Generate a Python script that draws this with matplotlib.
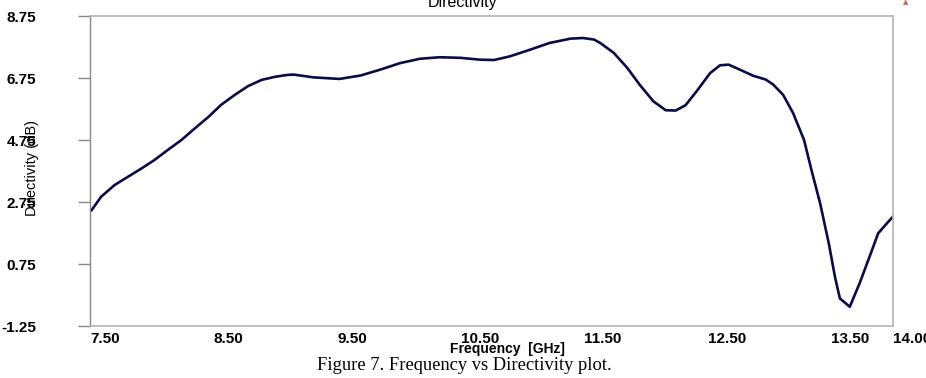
import matplotlib
matplotlib.use('Agg')
import matplotlib.pyplot as plt

# frequency [GHz] and directivity [dB]
freq = [7.51, 7.59, 7.70, 7.81, 7.92, 8.02, 8.13, 8.24, 8.35, 8.46,
        8.56, 8.67, 8.78, 8.89, 9.00, 9.10, 9.15, 9.31, 9.52, 9.69,
        9.85, 10.01, 10.17, 10.33, 10.50, 10.66, 10.77, 10.90, 11.06, 11.22,
        11.39, 11.49, 11.58, 11.63, 11.74, 11.85, 11.95, 12.06, 12.16, 12.24,
        12.32, 12.41, 12.52, 12.60, 12.67, 12.76, 12.87, 12.97, 13.03, 13.11,
        13.19, 13.28, 13.34, 13.41, 13.48, 13.53, 13.57, 13.65, 13.73, 13.82,
        13.88, 13.95, 14.00]
directivity = [2.47, 2.92, 3.30, 3.57, 3.84, 4.10, 4.43, 4.75, 5.13, 5.50,
               5.88, 6.20, 6.49, 6.69, 6.79, 6.85, 6.86, 6.77, 6.72, 6.83,
               7.02, 7.23, 7.37, 7.42, 7.40, 7.34, 7.33, 7.45, 7.66, 7.88,
               8.02, 8.04, 7.99, 7.88, 7.56, 7.07, 6.53, 6.00, 5.71, 5.70,
               5.87, 6.32, 6.91, 7.16, 7.18, 7.02, 6.82, 6.70, 6.54, 6.21,
               5.63, 4.75, 3.78, 2.71, 1.42, 0.34, -0.36, -0.63, 0.13, 1.09,
               1.74, 2.06, 2.28]

x_ticks = [7.5, 8.5, 9.5, 10.5, 11.5, 12.5, 13.5, 14.0]
y_ticks = [-1.25, 0.75, 2.75, 4.75, 6.75, 8.75]

plt.rcParams['font.family'] = ['Liberation Sans', 'DejaVu Sans']

fig = plt.figure(figsize=(9.26, 3.78), dpi=100)
ax = fig.add_axes([90 / 926, 52 / 378, 803 / 926, 310 / 378])

ax.plot(freq, directivity, color='#0b0b45', linewidth=1.9,
        solid_joinstyle='round', solid_capstyle='round')

ax.set_xlim(7.5, 14.0)
ax.set_ylim(-1.25, 8.75)
ax.set_xticks(x_ticks)
ax.set_xticklabels(['%.2f' % t for t in x_ticks], ha='left',
                   fontsize=11, fontweight='bold')
ax.set_yticks(y_ticks)
ax.set_yticklabels(['%.2f' % t for t in y_ticks], fontsize=11, fontweight='bold')

ax.tick_params(axis='x', length=0, pad=4)
ax.tick_params(axis='y', length=8.6, width=1, color='#888888', pad=30)

for side in ['top', 'bottom', 'right']:
    ax.spines[side].set_color('#b4b4b4')
    ax.spines[side].set_linewidth(1.2)
ax.spines['left'].set_color('#888888')
ax.spines['left'].set_linewidth(1.0)

fig.text(32 / 926, 1 - 168 / 378, 'Directivity (dB)', rotation=90,
         ha='center', va='center', fontsize=10.5)
fig.text(507 / 926, 1 - 349 / 378, 'Frequency  [GHz]', ha='center', va='center',
         fontsize=10, fontweight='bold')
fig.text(463 / 926, 1 - 3 / 378, 'Directivity', ha='center', va='center', fontsize=11.5)
fig.text(464 / 926, 1 - 366 / 378, 'Figure 7. Frequency vs Directivity plot.',
         ha='center', va='center', fontsize=13.3, family='Liberation Serif')
fig.text(906 / 926, 1 - 2 / 378, '\u25b2', ha='center', va='center', fontsize=5,
         color='#d06060', family='DejaVu Sans')

fig.savefig('out.png', dpi=100)
